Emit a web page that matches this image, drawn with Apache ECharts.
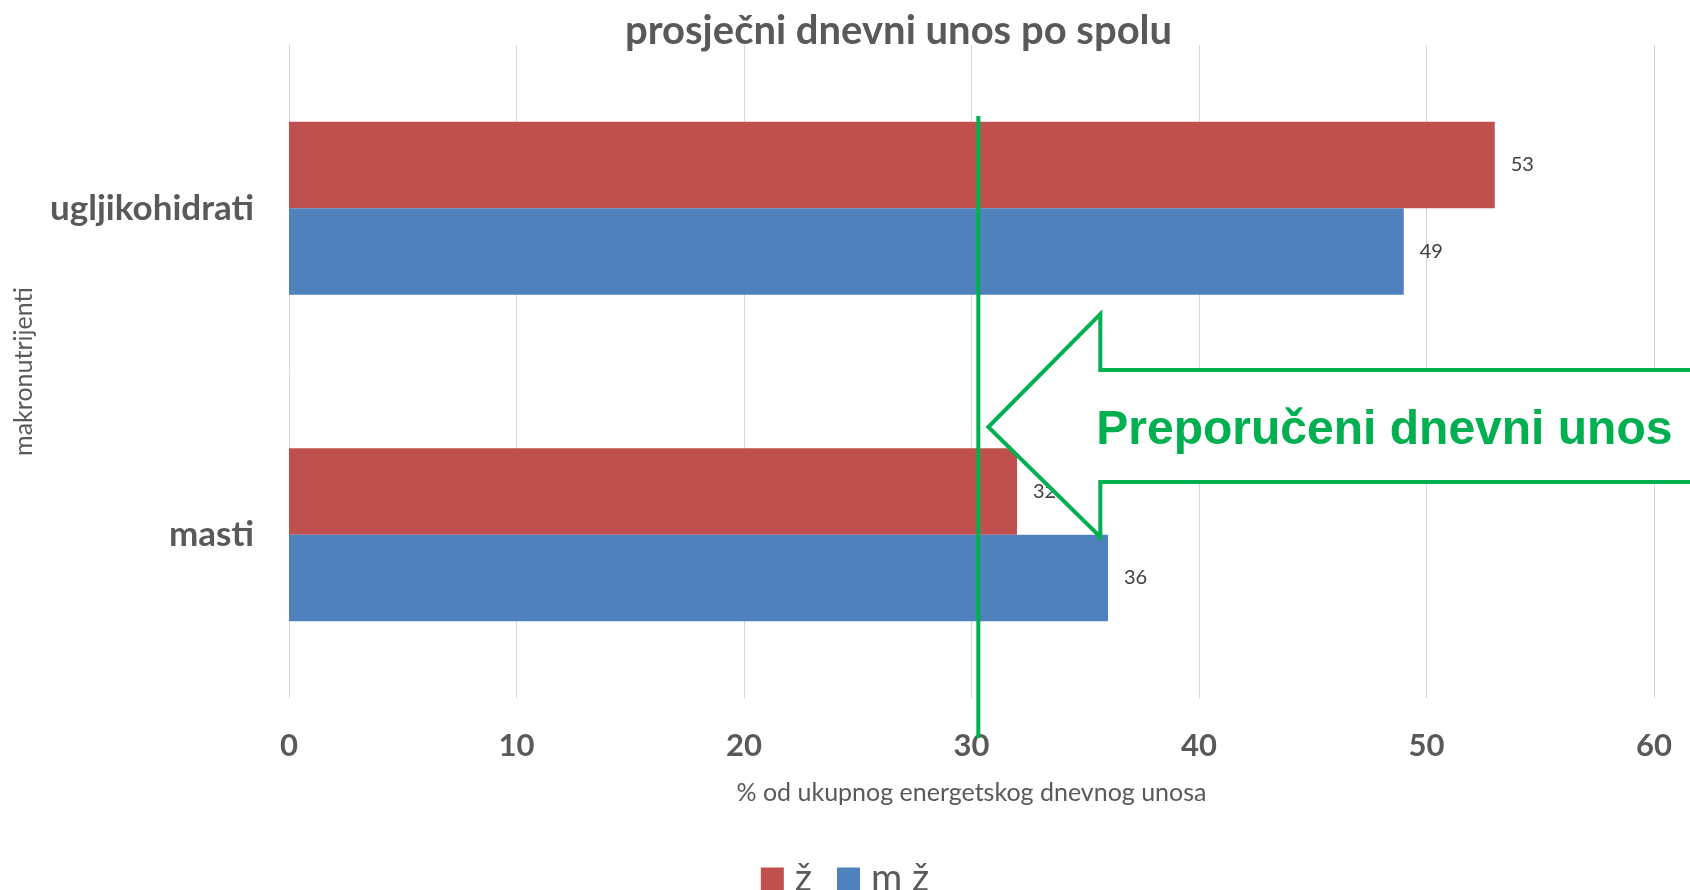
<!DOCTYPE html>
<html>
<head>
<meta charset="utf-8">
<script src="https://cdn.jsdelivr.net/npm/echarts@6/dist/echarts.min.js"></script>
<style>
  html, body { margin: 0; padding: 0; background: #fff; }
  #main { width: 1690px; height: 890px; }
</style>
</head>
<body>
<div id="main"></div>
<script>
// kategorije i vrijednosti
const categories = ["ugljikohidrati", "masti"];
const seriesNames = ["ž", "m ž"];
const zValues = [53, 32];
const mzValues = [49, 36];
const xTicks = [0, 10, 20, 30, 40, 50, 60];
// preporuka (zelena linija)
const recommended = 30.3;

const chart = echarts.init(document.getElementById("main"));

const option = {
  animation: false,
  textStyle: { fontFamily: "Lato" },
  title: {
    text: "prosječni dnevni unos po spolu",
    left: 620,
    top: 6,
    textStyle: { fontSize: 40, fontWeight: "bold", color: "#595959", fontFamily: "Lato" },
  },
  grid: { left: 289, right: 36, top: 45, bottom: 192 },
  legend: {
    data: seriesNames,
    left: "center",
    top: 855,
    icon: "rect",
    itemWidth: 23,
    itemHeight: 23,
    itemGap: 25,
    textStyle: { fontSize: 38, color: "#595959", padding: [0, 0, 0, 6] },
  },
  xAxis: {
    type: "value",
    min: xTicks[0],
    max: xTicks[xTicks.length - 1],
    interval: 10,
    name: "% od ukupnog energetskog dnevnog unosa",
    nameLocation: "middle",
    nameGap: 82,
    nameTextStyle: { fontSize: 25, color: "#595959" },
    axisLine: { show: false },
    axisTick: { show: false },
    axisLabel: { fontSize: 31, fontWeight: "bold", color: "#595959", margin: 32 },
    splitLine: { lineStyle: { color: "#CAD7EA", width: 1 } },
  },
  yAxis: {
    type: "category",
    inverse: true,
    data: categories,
    name: "makronutrijenti",
    nameLocation: "middle",
    nameRotate: 90,
    nameGap: 253,
    nameTextStyle: { fontSize: 25, color: "#595959" },
    axisLine: { lineStyle: { color: "#D9D9D9" } },
    axisTick: { show: false },
    axisLabel: { fontSize: 35, fontWeight: "bold", color: "#595959", margin: 35 },
  },
  series: [
    {
      name: seriesNames[0],
      type: "bar",
      data: zValues,
      barGap: "0%",
      barCategoryGap: "47%",
      itemStyle: { color: "#C0504D" },
      label: { show: true, position: "right", distance: 16, fontSize: 20, color: "#404040" },
    },
    {
      name: seriesNames[1],
      type: "bar",
      data: mzValues,
      barGap: "0%",
      barCategoryGap: "47%",
      itemStyle: { color: "#4F81BD" },
      label: { show: true, position: "right", distance: 16, fontSize: 20, color: "#404040" },
    },
  ],
};

chart.setOption(option);

// zelena linija i strelica (anotacija)
const lineX = chart.convertToPixel({ xAxisIndex: 0 }, recommended);
const tipX = lineX + 10;
const headX = tipX + 112;
chart.setOption({
  graphic: [
    {
      type: "line",
      z: 100,
      shape: { x1: lineX, y1: 116, x2: lineX, y2: 738 },
      style: { stroke: "#00B050", lineWidth: 4 },
    },
    {
      type: "polygon",
      z: 101,
      shape: {
        points: [
          [tipX, 427], [headX, 314], [headX, 370], [1700, 370],
          [1700, 482], [headX, 482], [headX, 537],
        ],
      },
      style: { fill: "#fff", stroke: "#00B050", lineWidth: 4, lineJoin: "miter" },
    },
    {
      type: "text",
      z: 102,
      x: headX - 4,
      y: 431,
      style: {
        text: "Preporučeni dnevni unos",
        font: "bold 48px 'Liberation Sans'",
        fill: "#00B050",
        verticalAlign: "middle",
      },
    },
  ],
});
</script>
</body>
</html>
